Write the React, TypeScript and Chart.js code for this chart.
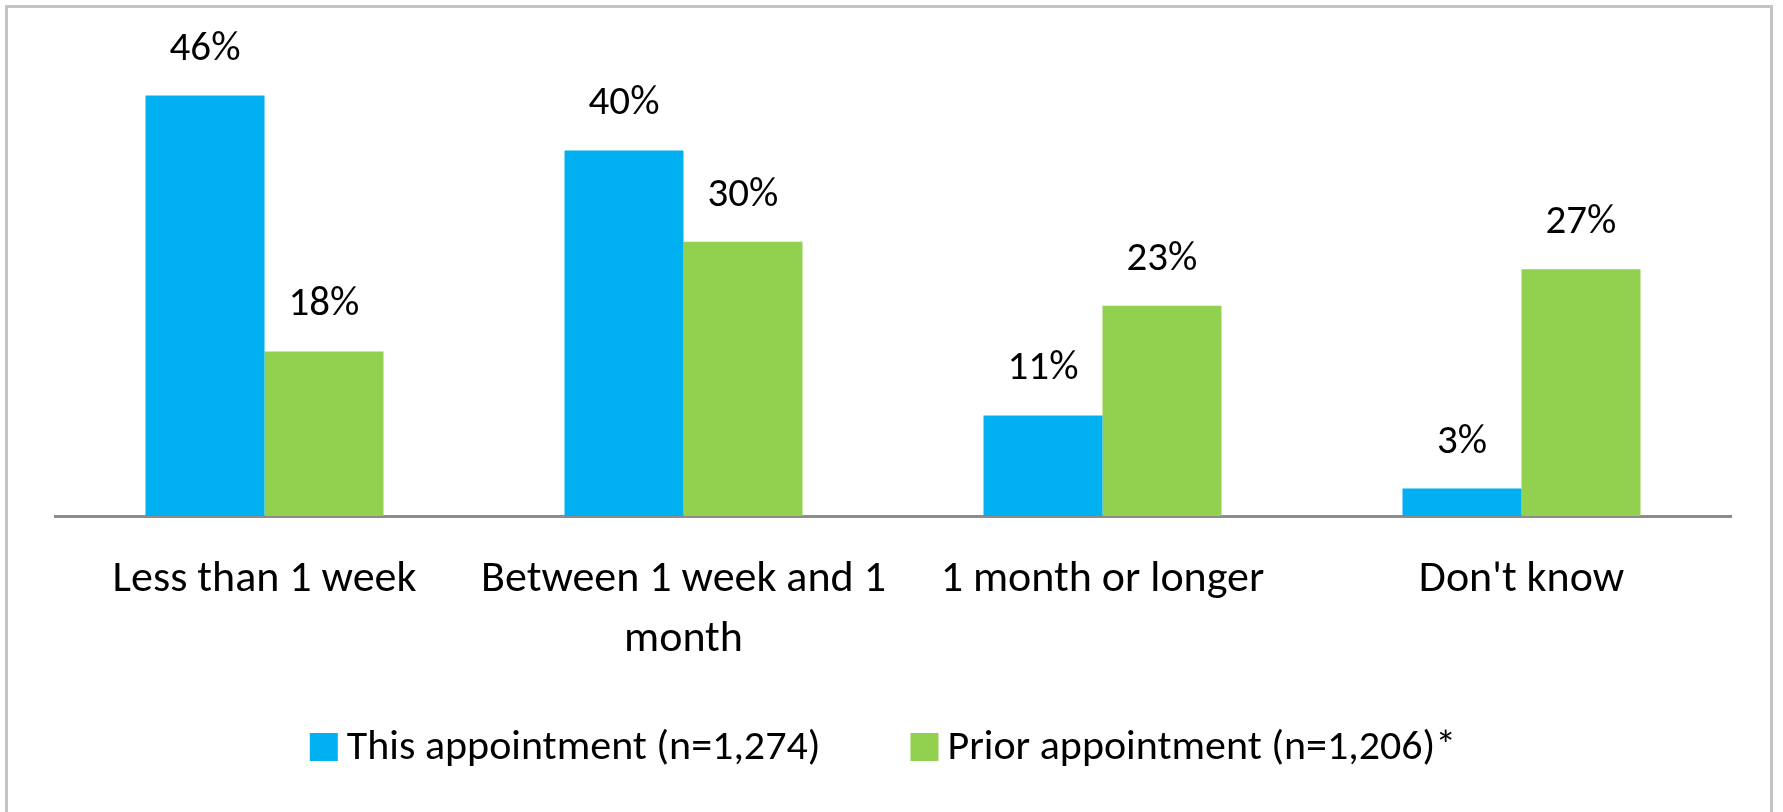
import React, { useEffect, useRef } from "react";
import { Chart, registerables } from "chart.js";

Chart.register(...registerables);

const categories: (string | string[])[] = [
  "Less than 1 week",
  ["Between 1 week and 1", "month"],
  "1 month or longer",
  "Don't know",
];
const thisAppointment = [46, 40, 11, 3];
const priorAppointment = [18, 30, 23, 27];
const seriesLabels = ["This appointment (n=1,274)", "Prior appointment (n=1,206)*"];
const seriesColors = ["#00B0F0", "#92D050"];

const FONT = "Carlito, Lato, 'Open Sans', sans-serif";
const W = 1783;
const H = 812;

const valueLabels = {
  id: "valueLabels",
  afterDatasetsDraw(chart: any) {
    const ctx = chart.ctx;
    ctx.save();
    ctx.font = `41px ${FONT}`;
    ctx.fillStyle = "#000";
    ctx.textAlign = "center";
    ctx.textBaseline = "alphabetic";
    chart.data.datasets.forEach((ds: any, i: number) => {
      const meta = chart.getDatasetMeta(i);
      meta.data.forEach((el: any, j: number) => {
        ctx.fillText(`${ds.data[j]}%`, el.x, el.y - 36);
      });
    });
    ctx.restore();
  },
};

const customLegend = {
  id: "customLegend",
  afterDraw(chart: any) {
    const ctx = chart.ctx;
    ctx.save();
    ctx.font = `42px ${FONT}`;
    ctx.textBaseline = "middle";
    ctx.textAlign = "left";
    const box = 28;
    const gapText = 9;
    const gapItem = 90;
    const items = chart.data.datasets.map((ds: any) => ({
      label: ds.label,
      color: ds.backgroundColor,
      w: box + gapText + ctx.measureText(ds.label).width,
    }));
    const total = items.reduce((s: number, it: any) => s + it.w, 0) + gapItem * (items.length - 1);
    const ca = chart.chartArea;
    let x = (ca.left + ca.right) / 2 - 10 - total / 2;
    const y = 747;
    items.forEach((it: any) => {
      ctx.fillStyle = it.color;
      ctx.fillRect(x, y - box / 2, box, box);
      ctx.fillStyle = "#000";
      ctx.fillText(it.label, x + box + gapText, y + 1);
      x += it.w + gapItem;
    });
    ctx.restore();
  },
};

export default function App() {
  const ref = useRef<HTMLCanvasElement | null>(null);
  useEffect(() => {
    if (!ref.current) return;
    const chart = new Chart(ref.current, {
      type: "bar",
      data: {
        labels: categories,
        datasets: [
          { label: seriesLabels[0], data: thisAppointment, backgroundColor: seriesColors[0] },
          { label: seriesLabels[1], data: priorAppointment, backgroundColor: seriesColors[1] },
        ],
      },
      options: {
        responsive: false,
        animation: false,
        devicePixelRatio: 1,
        layout: { padding: { left: 55, right: 52, top: 59, bottom: 0 } },
        datasets: { bar: { categoryPercentage: 0.568, barPercentage: 1 } },
        plugins: { legend: { display: false }, tooltip: { enabled: false } },
        scales: {
          x: {
            grid: { display: false, drawTicks: false },
            border: { display: true, color: "#8C8C8C", width: 3 },
            ticks: {
              color: "#000",
              padding: 34,
              maxRotation: 0,
              autoSkip: false,
              font: { family: FONT, size: 44, lineHeight: 1.364 },
            },
            afterFit(scale: any) {
              scale.height = 296;
            },
          },
          y: { display: false, min: 0, max: 50 },
        },
      },
      plugins: [valueLabels, customLegend],
    });
    return () => chart.destroy();
  }, []);
  return (
    <div style={{ position: "fixed", left: 0, top: 0, width: W, height: H, background: "#fff", overflow: "hidden" }}>
      <canvas ref={ref} width={W} height={H} style={{ position: "absolute", left: 0, top: 0 }} />
      <div
        style={{
          position: "absolute",
          left: 5,
          top: 5,
          width: 1768,
          height: 900,
          border: "3px solid #C4C4C4",
          boxSizing: "border-box",
          pointerEvents: "none",
        }}
      />
    </div>
  );
}
